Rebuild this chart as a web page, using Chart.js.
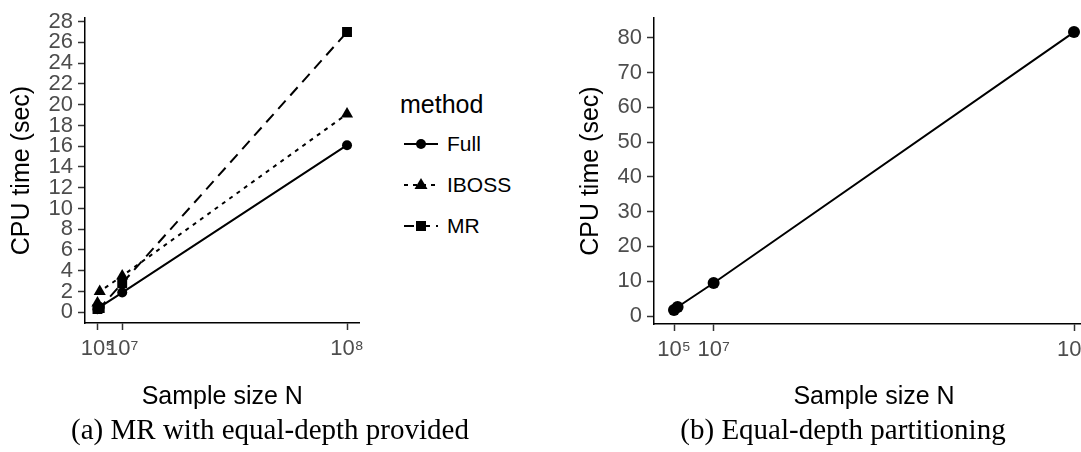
<!DOCTYPE html>
<html>
<head>
<meta charset="utf-8">
<script src="https://cdn.jsdelivr.net/npm/chart.js@4.4.1/dist/chart.umd.min.js"></script>
<style>
  html, body { margin: 0; padding: 0; background: #fff; overflow: hidden; width: 1081px; height: 452px; position: relative; }
  canvas { position: absolute; top: 0; }
  #chartA { left: 0; }
  #chartB { left: 560px; }
  .legend { position: absolute; left: 400px; top: 0; font-family: "Liberation Sans", Arial, sans-serif; color: #000; }
  .legend .title { position: absolute; left: 0; top: 89px; font-size: 25px; line-height: 30px; white-space: nowrap; }
  .legend .item { position: absolute; left: 4px; height: 30px; white-space: nowrap; }
  .legend .item svg { position: absolute; left: 0; top: 5px; }
  .legend .item span { position: absolute; left: 43px; top: 2px; font-size: 21px; line-height: 26px; }
  .caption { position: absolute; font-family: "Liberation Serif", "Times New Roman", serif; font-size: 29px; line-height: 32px; white-space: nowrap; transform: translateX(-50%); color: #000; }
</style>
</head>
<body>
<canvas id="chartA" width="372" height="414"></canvas>
<canvas id="chartB" width="544" height="414"></canvas>

<div class="legend">
  <div class="title">method</div>
  <div class="item" style="top:129px">
    <svg width="34" height="20"><line x1="0" y1="10" x2="34" y2="10" stroke="#000" stroke-width="2"/><circle cx="17" cy="10" r="5" fill="#000"/></svg>
    <span>Full</span>
  </div>
  <div class="item" style="top:170px">
    <svg width="34" height="20"><line x1="0" y1="10" x2="34" y2="10" stroke="#000" stroke-width="2" stroke-dasharray="4 5"/><polygon points="17,3 23.5,14 10.5,14" fill="#000"/></svg>
    <span>IBOSS</span>
  </div>
  <div class="item" style="top:211px">
    <svg width="34" height="20"><line x1="0" y1="10" x2="34" y2="10" stroke="#000" stroke-width="2" stroke-dasharray="10 6"/><rect x="12" y="5" width="10" height="10" fill="#000"/></svg>
    <span>MR</span>
  </div>
</div>

<div class="caption" style="left:270px; top:413px">(a) MR with equal-depth provided</div>
<div class="caption" style="left:843px; top:413px">(b) Equal-depth partitioning</div>

<script>
// ── DATA ───────────────────────────────────────────────────────
const N_SIZES = [1e5, 1e6, 1e7, 1e8];
const FULL    = [0.3, 0.5, 1.9, 16.1];
const IBOSS   = [0.9, 2.0, 3.5, 19.1];
const MR      = [0.3, 0.4, 2.8, 27.0];
const EQUAL_DEPTH = [1.7, 2.6, 9.5, 81.6];

const X_TICKS = [1e5, 1e7, 1e8];
const X_TICK_LABELS = ['10\u2075', '10\u2077', '10\u2078'];
const Y_TICKS_A = [0, 2, 4, 6, 8, 10, 12, 14, 16, 18, 20, 22, 24, 26, 28];
const Y_TICKS_B = [0, 10, 20, 30, 40, 50, 60, 70, 80];

const X_TITLE = 'Sample size N';
const Y_TITLE = 'CPU time (sec)';

// ── HELPERS ────────────────────────────────────────────────────
const FONT = '"Liberation Sans", Arial, sans-serif';
const TICK_GREY = '#4d4d4d';

// ggplot-like 5% expansion of the data range
function expand(vals) {
  const lo = Math.min(...vals), hi = Math.max(...vals), d = (hi - lo) * 0.05;
  return [lo - d, hi + d];
}

function pts(ys) { return N_SIZES.map((x, i) => ({ x, y: ys[i] })); }

function series(label, ys, style, radius, dash) {
  return {
    label, data: pts(ys),
    showLine: true, borderColor: '#000', backgroundColor: '#000',
    borderWidth: 2, borderDash: dash,
    pointStyle: style, pointRadius: radius, pointHoverRadius: radius, pointBorderWidth: 0
  };
}

function axisBase(titleText, titlePad) {
  return {
    type: 'linear',
    border: { display: true, color: '#000', width: 1.5 },
    grid: { display: true, drawOnChartArea: false, drawTicks: true, tickLength: 7, tickWidth: 1.5, tickColor: '#333' },
    title: { display: true, text: titleText, color: '#000', font: { family: FONT, size: 25 }, padding: titlePad }
  };
}

function makeChart(id, datasets, yVals, yTicks, opt) {
  const [xMin, xMax] = expand(N_SIZES);
  const [yMin, yMax] = expand(yVals);
  const cv = document.getElementById(id);
  return new Chart(cv.getContext('2d'), {
    type: 'scatter',
    data: { datasets },
    options: {
      responsive: false, animation: false, devicePixelRatio: 1,
      layout: { padding: { left: 0, top: opt.top, right: opt.right, bottom: 0 } },
      plugins: { legend: { display: false }, tooltip: { enabled: false } },
      scales: {
        x: {
          ...axisBase(X_TITLE, { top: 0, bottom: 2 }),
          min: xMin, max: xMax,
          afterBuildTicks: s => { s.ticks = X_TICKS.map(v => ({ value: v })); },
          afterFit: s => { s.height = cv.height - opt.bottom; },
          ticks: {
            autoSkip: false, maxRotation: 0, minRotation: 0, padding: 6,
            color: TICK_GREY, font: { family: FONT, size: 22 },
            callback: v => X_TICK_LABELS[X_TICKS.indexOf(v)]
          }
        },
        y: {
          ...axisBase(Y_TITLE, { top: opt.yTitlePad, bottom: 0 }),
          min: yMin, max: yMax,
          afterBuildTicks: s => { s.ticks = yTicks.map(v => ({ value: v })); },
          afterFit: s => { s.width = opt.left; },
          ticks: { autoSkip: false, padding: 5, color: TICK_GREY, font: { family: FONT, size: 22 }, callback: v => String(v) }
        }
      }
    }
  });
}

// ── PANEL (a) ──────────────────────────────────────────────────
makeChart('chartA', [
  series('Full', FULL, 'circle', 5, []),
  series('IBOSS', IBOSS, 'triangle', 7, [4, 5]),
  series('MR', MR, 'rect', 7, [11, 7])
], [...FULL, ...IBOSS, ...MR], Y_TICKS_A, { left: 85, top: 16, right: 12.5, bottom: 323, yTitlePad: 7 });

// ── PANEL (b) ──────────────────────────────────────────────────
makeChart('chartB', [
  series('Equal-depth', EQUAL_DEPTH, 'circle', 6, [])
], EQUAL_DEPTH, Y_TICKS_B, { left: 94, top: 16, right: 10, bottom: 324, yTitlePad: 16.5 });
</script>
</body>
</html>
